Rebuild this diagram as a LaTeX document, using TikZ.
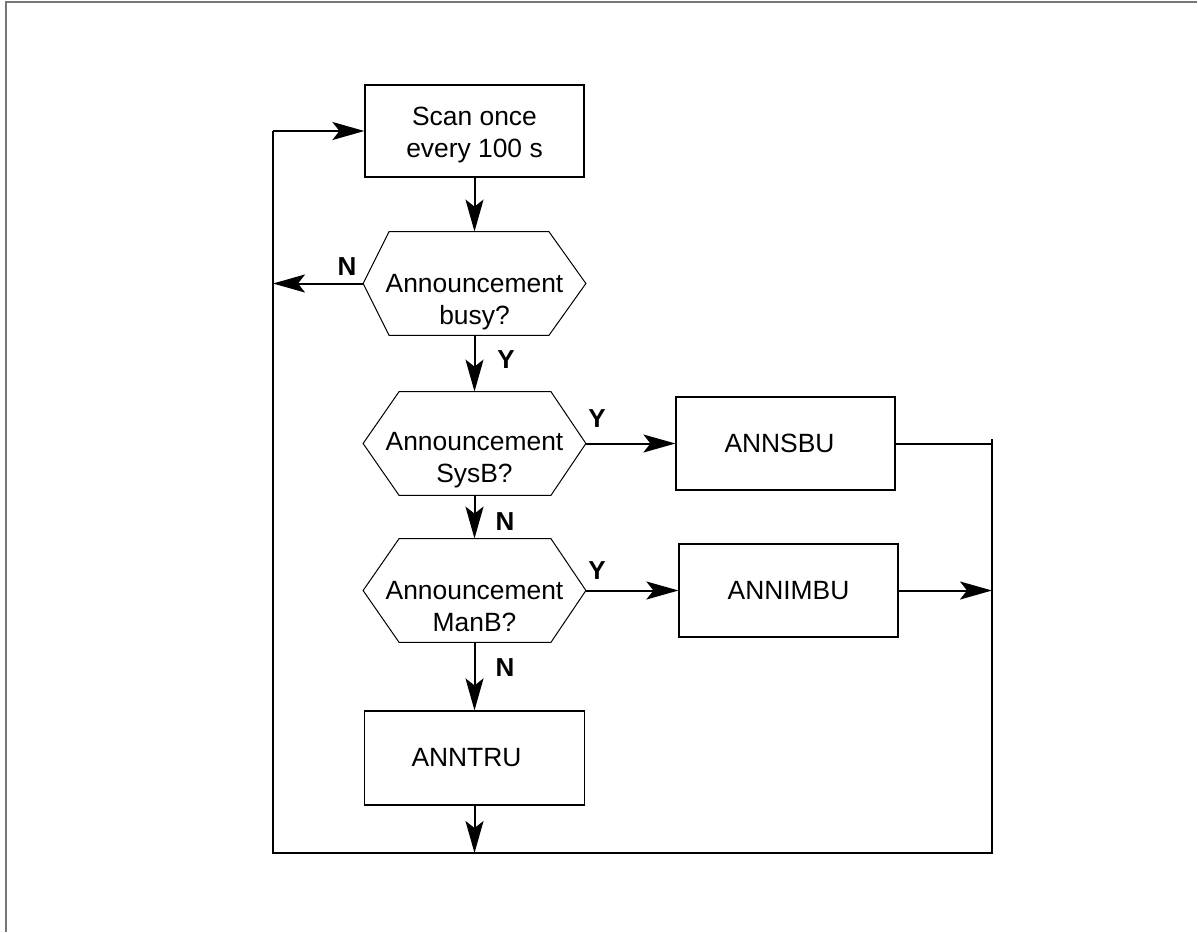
\documentclass[tikz,border=0pt]{standalone}
\usepackage{fontspec}
\setmainfont{Liberation Sans}
\usetikzlibrary{arrows.meta,calc}
\definecolor{framegray}{HTML}{767676}
\tikzset{
  box/.style={draw, line width=0.6pt, inner sep=0pt, align=center,
    font=\fontsize{13.2}{16}\selectfont},
  hexarea/.style={inner sep=0pt, minimum width=111pt, minimum height=51.5pt},
  hexline/.style={draw, line width=0.5pt},
  txt/.style={align=center, inner sep=0pt, font=\fontsize{13.2}{16}\selectfont},
  lbl/.style={inner sep=0pt, font=\fontsize{13}{15}\selectfont\bfseries},
  conn/.style={line width=1pt},
  arr/.style={conn, -{Stealth[length=16pt,width=9pt,inset=3.5pt]}},
}
\begin{document}
\begin{tikzpicture}[x=0.5pt,y=-0.5pt]
\useasboundingbox (0,0) rectangle (1198,932);
% outer frame (top and left)
\draw[framegray, line width=1pt] (5.5,932) -- (5.5,1.5) -- (1197,1.5);

% boxes
\node[box, minimum width=109.5pt, minimum height=46pt] (scan) at (474.5,131) {};
\node[txt] (ts) at (474.5,135) {Scan once\\every 100 s};
\node[box, minimum width=109.5pt, minimum height=46.5pt] (sbu) at (785.5,443.5) {\hspace*{-6pt}ANNSBU};
\node[box, minimum width=109.5pt, minimum height=46.5pt] (imbu) at (788.5,590.5) {ANNIMBU};
\node[box, minimum width=110pt, minimum height=47pt] (tru) at (474.5,758) {\hspace*{-8pt}ANNTRU};

% hexagons
\node[hexarea] (h1) at (474.5,283.5) {};
\draw[hexline] (h1.west) -- ($(h1.north west)+(26,0)$) -- ($(h1.north east)+(-37,0)$) -- (h1.east)
  -- ($(h1.south east)+(-37,0)$) -- ($(h1.south west)+(26,0)$) -- cycle;
\node[txt] (t1) at (474.5,302) {Announcement\\busy?};

\node[hexarea] (h2) at (474.5,443.5) {};
\draw[hexline] (h2.west) -- ($(h2.north west)+(36,0)$) -- ($(h2.north east)+(-35,0)$) -- (h2.east)
  -- ($(h2.south east)+(-35,0)$) -- ($(h2.south west)+(36,0)$) -- cycle;
\node[txt] (t2) at (474.5,460) {Announcement\\SysB?};

\node[hexarea] (h3) at (474.5,590.5) {};
\draw[hexline] (h3.west) -- ($(h3.north west)+(36,0)$) -- ($(h3.north east)+(-35,0)$) -- (h3.east)
  -- ($(h3.south east)+(-35,0)$) -- ($(h3.south west)+(36,0)$) -- cycle;
\node[txt] (t3) at (474.5,607) {Announcement\\ManB?};

% coordinates for the loop
\coordinate (lN) at (273,283.5);
\coordinate (lTop) at (273,131);
\coordinate (lBot) at (273,853);
\coordinate (rTop) at (992,439);
\coordinate (rS) at (992,443.5);
\coordinate (rI) at (992,590.5);
\coordinate (rBot) at (992,853);
\coordinate (bArr) at (474.5,853);

% connectors
\draw[arr] (scan.south) -- (h1.north);
\draw[arr] (h1.west) -- (lN);
\draw[arr] (h1.south) -- (h2.north);
\draw[arr] (h2.east) -- (sbu.west);
\draw[arr] (h2.south) -- (h3.north);
\draw[arr] (h3.east) -- (imbu.west);
\draw[arr] (h3.south) -- (tru.north);
\draw[arr] (tru.south) -- (bArr);
\draw[conn] (sbu.east) -- (rS);
\draw[arr] (imbu.east) -- (rI);
\draw[conn] (rTop) -- (rBot) -- (lBot) -- (lTop);
\draw[arr] (lTop) -- (scan.west);

% labels
\node[lbl] (lN1) at (347,267) {N};
\node[lbl] (lY1) at (506,360) {Y};
\node[lbl] (lY2) at (597,419) {Y};
\node[lbl] (lN2) at (505,522) {N};
\node[lbl] (lY3) at (597,571) {Y};
\node[lbl] (lN3) at (505,668) {N};
\end{tikzpicture}
\end{document}
